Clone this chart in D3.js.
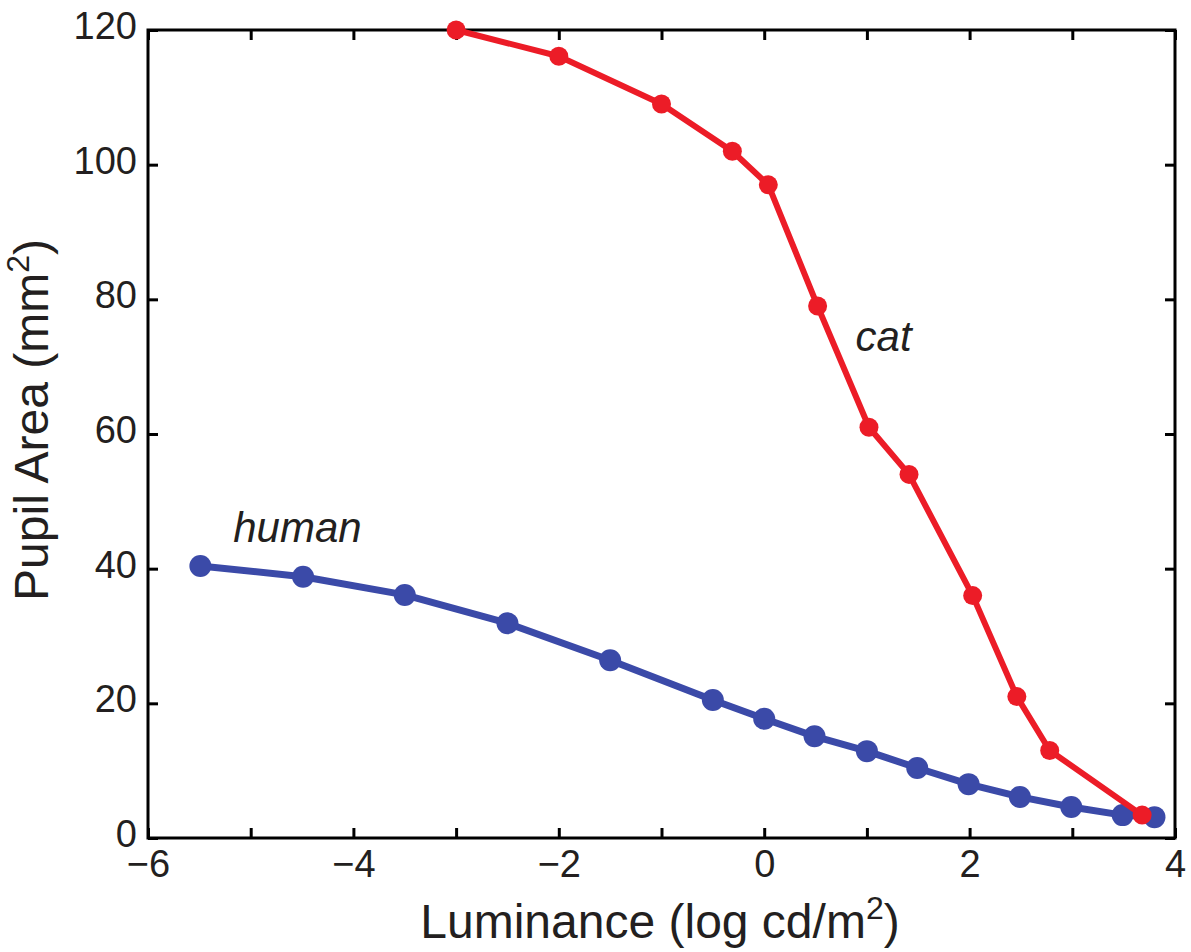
<!DOCTYPE html>
<html>
<head>
<meta charset="utf-8">
<script src="https://cdn.jsdelivr.net/npm/d3@7"></script>
<style>
  body { margin: 0; background: #fff; }
  svg text { font-family: "Liberation Sans", Arial, sans-serif; fill: #231f20; }
</style>
</head>
<body>
<div id="chart"></div>
<script>
// luminance (log cd/m2) and pupil area (mm2)
const catLum = [-3, -2, -1, -0.31, 0.04, 0.52, 1.02, 1.41, 2.03, 2.46, 2.78, 3.68];
const catArea = [120, 116.1, 109, 102, 97, 79, 61, 54, 36, 21, 13, 3.4];
const humanLum = [-5.49, -4.49, -3.5, -2.5, -1.5, -0.5, 0, 0.49, 1, 1.49, 1.99, 2.49, 2.99, 3.49, 3.8];
const humanArea = [40.4, 38.8, 36.1, 31.9, 26.4, 20.5, 17.7, 15.1, 12.9, 10.4, 8.0, 6.1, 4.6, 3.4, 3.1];
const xTicks = [-6, -5, -4, -3, -2, -1, 0, 1, 2, 3, 4];
const xLabelTicks = [-6, -4, -2, 0, 2, 4];
const yTicks = [0, 20, 40, 60, 80, 100, 120];

const width = 1191, height = 952;
const margin = { top: 30, right: 16, bottom: 114, left: 148 };
const chartWidth = width - margin.left - margin.right;
const chartHeight = height - margin.top - margin.bottom;

const svg = d3.select('#chart').append('svg')
  .attr('width', width)
  .attr('height', height);

const g = svg.append('g').attr('transform', `translate(${margin.left},${margin.top})`);

const xScale = d3.scaleLinear().domain([-6, 4]).range([0, chartWidth]);
const yScale = d3.scaleLinear().domain([0, 120]).range([chartHeight, 0]);

const minus = d => (d < 0 ? '\u2212' + Math.abs(d) : String(d));

// ticks pointing inwards on all four sides
const tickLen = 10;
g.append('g')
  .attr('transform', `translate(0,${chartHeight})`)
  .call(d3.axisBottom(xScale).tickValues(xTicks).tickSizeInner(-tickLen).tickSizeOuter(0)
    .tickPadding(12).tickFormat(d => (xLabelTicks.includes(d) ? minus(d) : '')))
  .call(a => a.select('.domain').remove())
  .call(a => a.selectAll('text').attr('font-size', 38).attr('dy', '0.72em'));

g.append('g')
  .call(d3.axisTop(xScale).tickValues(xTicks).tickSizeInner(-tickLen).tickSizeOuter(0).tickFormat(''))
  .call(a => a.select('.domain').remove());

g.append('g')
  .call(d3.axisLeft(yScale).tickValues(yTicks).tickSizeInner(-tickLen).tickSizeOuter(0).tickPadding(11).tickFormat(minus))
  .call(a => a.select('.domain').remove())
  .call(a => a.selectAll('text').attr('font-size', 38).attr('dy', '0.22em'));

g.append('g')
  .attr('transform', `translate(${chartWidth},0)`)
  .call(d3.axisRight(yScale).tickValues(yTicks).tickSizeInner(-tickLen).tickSizeOuter(0).tickFormat(''))
  .call(a => a.select('.domain').remove());

g.selectAll('.tick line').attr('stroke', '#000').attr('stroke-width', 3);

g.append('rect')
  .attr('width', chartWidth)
  .attr('height', chartHeight)
  .attr('fill', 'none')
  .attr('stroke', '#000')
  .attr('stroke-width', 3);

const drawLine = d3.line()
  .x(d => xScale(d[0]))
  .y(d => yScale(d[1]));

const series = [
  { lum: humanLum, area: humanArea, color: '#3b4aa8', r: 11, lw: 7 },
  { lum: catLum, area: catArea, color: '#ec1c27', r: 9.5, lw: 6 },
];

series.forEach(({ lum, area, color, r, lw }) => {
  const pts = lum.map((x, i) => [x, area[i]]);
  g.append('path')
    .datum(pts)
    .attr('fill', 'none')
    .attr('stroke', color)
    .attr('stroke-width', lw)
    .attr('stroke-linejoin', 'round')
    .attr('d', drawLine);
  g.selectAll(null)
    .data(pts)
    .enter().append('circle')
    .attr('cx', d => xScale(d[0]))
    .attr('cy', d => yScale(d[1]))
    .attr('r', r)
    .attr('fill', color);
});

// series labels
g.append('text')
  .attr('x', xScale(-5.17))
  .attr('y', yScale(44))
  .attr('font-size', 42)
  .attr('font-style', 'italic')
  .text('human');

g.append('text')
  .attr('x', xScale(0.89))
  .attr('y', yScale(72.3))
  .attr('font-size', 42)
  .attr('font-style', 'italic')
  .text('cat');

// axis titles
const xt = svg.append('text')
  .attr('x', 660)
  .attr('y', 938)
  .attr('text-anchor', 'middle')
  .attr('font-size', 48);
xt.append('tspan').text('Luminance (log cd/m');
xt.append('tspan').attr('font-size', 32).attr('dy', -19).text('2');
xt.append('tspan').attr('dy', 19).text(')');

const yt = svg.append('text')
  .attr('transform', 'translate(48,420) rotate(-90)')
  .attr('text-anchor', 'middle')
  .attr('font-size', 48);
yt.append('tspan').text('Pupil Area (mm');
yt.append('tspan').attr('font-size', 32).attr('dy', -19).text('2');
yt.append('tspan').attr('dy', 19).text(')');
</script>
</body>
</html>
